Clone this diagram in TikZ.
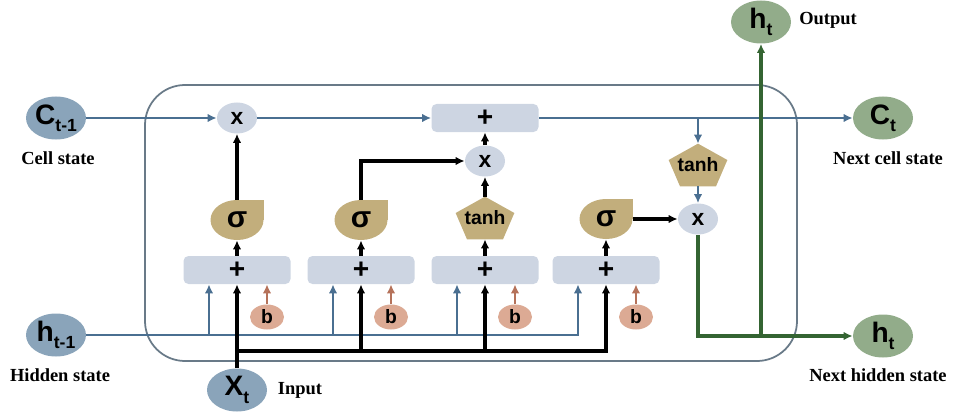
\documentclass[tikz,border=0pt]{standalone}
\usepackage{fontspec}
\setmainfont{Liberation Serif}
\newfontfamily\gatefont{Liberation Sans}
\usetikzlibrary{arrows.meta,shapes.geometric,backgrounds}
\definecolor{statebl}{RGB}{138,164,186}
\definecolor{stategr}{RGB}{146,172,138}
\definecolor{opgray}{RGB}{205,213,226}
\definecolor{gatetan}{RGB}{194,174,124}
\definecolor{biaspink}{RGB}{220,170,148}
\definecolor{biasline}{RGB}{181,114,90}
\definecolor{lineblue}{RGB}{74,111,145}
\definecolor{linegreen}{RGB}{52,100,50}
\definecolor{framegray}{RGB}{105,122,136}
\newcommand\lowsub[1]{\raisebox{-.5ex}{\fontsize{10}{10}\selectfont #1}}

\begin{document}
\begin{tikzpicture}[x=0.2mm,y=-0.2mm,
  >={Latex[length=1.8mm,width=1.7mm]},
  endstate/.style={ellipse,fill=statebl,minimum width=12mm,minimum height=8.6mm,inner sep=0pt,font=\gatefont\bfseries\fontsize{16}{16}\selectfont},
  outstate/.style={endstate,fill=stategr},
  caption/.style={font=\bfseries\fontsize{10.5}{12}\selectfont},
  opnode/.style={ellipse,fill=opgray,minimum width=8mm,minimum height=6.2mm,inner sep=0pt,font=\gatefont\bfseries\fontsize{13}{13}\selectfont},
  sumbox/.style={rectangle,rounded corners=1mm,fill=opgray,minimum width=21.4mm,minimum height=5.6mm,inner sep=0pt,font=\gatefont\bfseries\fontsize{16}{16}\selectfont},
  sigmagate/.style={ellipse,fill=gatetan,minimum width=10.6mm,minimum height=8mm,inner sep=0pt,font=\gatefont\bfseries\fontsize{17}{17}\selectfont},
  tanhgate/.style={rectangle,minimum width=11.6mm,minimum height=8.4mm,inner sep=0pt,font=\gatefont\bfseries\fontsize{11}{11}\selectfont},
  biasnode/.style={ellipse,fill=biaspink,minimum width=6.8mm,minimum height=5mm,inner sep=0pt,font=\gatefont\bfseries\fontsize{11}{11}\selectfont},
  cellframe/.style={draw=framegray,line width=1pt,rounded corners=8mm,minimum width=130.4mm,minimum height=55.2mm},
  cline/.style={draw=lineblue,line width=1.5pt},
  xline/.style={draw=black,line width=2pt},
  gline/.style={draw=linegreen,line width=1.8pt},
  bline/.style={draw=biasline,line width=1.5pt}]
\useasboundingbox (0,0) rectangle (954,412);
\node[cellframe] (cell) at (471,223) {};
\node[endstate] (cprev) at (56,118) {C\lowsub{t-1}};
\node[endstate] (hprev) at (56,335) {h\lowsub{t-1}};
\node[endstate] (xt) at (237,390) {X\lowsub{t}};
\node[outstate] (hout) at (761,22) {h\lowsub{t}};
\node[outstate] (cnext) at (883,118) {C\lowsub{t}};
\node[outstate] (hnext) at (883,336) {h\lowsub{t}};
\node[caption] (lcell) at (58,158) {Cell state};
\node[caption] (lhid) at (60,375) {Hidden state};
\node[caption] (lin) at (300,390) {Input};
\node[caption] (lout) at (828,20) {Output};
\node[caption] (lcnext) at (888,158) {Next cell state};
\node[caption] (lhnext) at (878,375) {Next hidden state};
\node[opnode] (m1) at (237,118) {x};
\node[sumbox] (addc) at (485,118) {+};
\node[opnode] (m2) at (485,161) {x};
\node[tanhgate] (th1) at (485,218) {tanh};
\node[tanhgate] (th2) at (698,165) {tanh};
\node[opnode] (m3) at (698,219) {x};
\node[sigmagate] (s1) at (237,220) {σ};
\node[sigmagate] (s2) at (361,220) {σ};
\node[sigmagate] (s4) at (606,219) {σ};
\foreach \x [count=\i] in {237,361,485,606} {
  \node[sumbox] (p\i) at (\x,270) {+};
  \node[biasnode] (b\i) at (\x+30,317) {b};
  \draw[bline,->] (b\i) -- (b\i |- p\i.south);
}
\begin{scope}[on background layer]
\foreach \s in {s1,s2,s4} \fill[gatetan] (\s.center) rectangle (\s.north -| \s.east);
\foreach \t in {th1,th2} \fill[gatetan] (\t.north) -- ([yshift=1mm]\t.east) -- ([xshift=3.6mm]\t.south) -- ([xshift=-3.6mm]\t.south) -- ([yshift=1mm]\t.west) -- cycle;
\end{scope}
\draw[cline,->] (cprev) -- (m1);
\draw[cline,->] (m1) -- (addc);
\draw[cline,->] (addc) -- (cnext);
\draw[cline,->] (th2.north |- addc.east) -- (th2);
\draw[cline,->] (th2) -- (m3);
\draw[xline,->] (s1) -- (m1);
\draw[xline,->] (s2) |- (m2);
\draw[xline,->] (th1) -- (m2);
\draw[xline,->] (m2) -- (addc);
\draw[xline,->] (s4) -- (m3);
\draw[xline,->] (p1) -- (s1);
\draw[xline,->] (p2) -- (s2);
\draw[xline,->] (p3) -- (th1);
\draw[xline,->] (p4) -- (s4);
\draw[cline,->] (hprev) -| ([xshift=-5.6mm]p4.south);
\foreach \i in {1,2,3} \draw[cline,->] ([xshift=-5.6mm]p\i.south |- hprev.east) -- ([xshift=-5.6mm]p\i.south);
\coordinate (xbus) at (237,351);
\draw[xline,->] (xt) -- (p1);
\draw[xline,->] (xbus) -| (p4.south);
\foreach \i in {2,3} \draw[xline,->] (p\i.south |- xbus) -- (p\i.south);
\draw[gline,->] (m3) |- (hnext);
\draw[gline,->] (hout.south |- hnext.west) -- (hout);
\end{tikzpicture}
\end{document}
